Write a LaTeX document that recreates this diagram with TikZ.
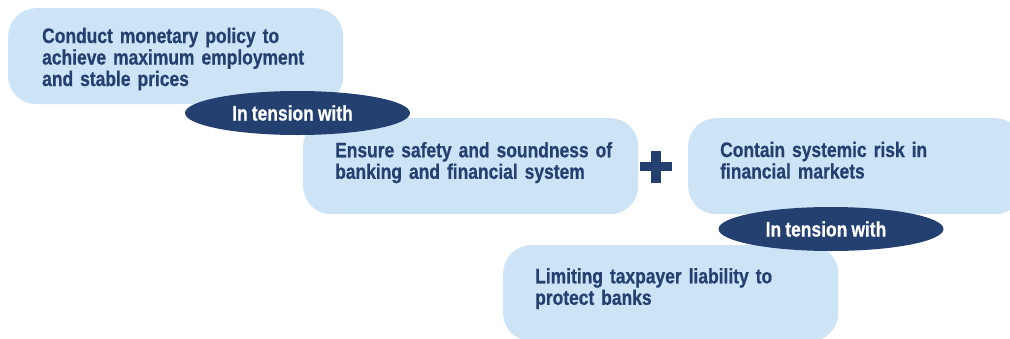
\documentclass[tikz,border=0pt]{standalone}
\usepackage{fontspec}
\setmainfont{Liberation Sans}[FakeStretch=0.83,WordSpace=0.85,FakeBold=0.6]
\usetikzlibrary{shapes.geometric}
\definecolor{boxblue}{RGB}{205,227,246}
\definecolor{navy}{RGB}{35,64,112}
\begin{document}
\begin{tikzpicture}[x=1pt,y=-1pt,
  goalbox/.style={fill=boxblue, rounded corners=28pt, minimum width=335pt, minimum height=96pt, anchor=north west, inner sep=0pt},
  goaltext/.style={anchor=base west, inner sep=0pt, text width=320pt, align=left, text=navy, font=\fontsize{21}{21.5}\selectfont\bfseries},
  tensionoval/.style={ellipse, fill=navy, minimum width=225pt, minimum height=44pt, inner sep=0pt, text=white, font=\fontsize{21}{21.5}\selectfont\bfseries},
  plussign/.style={minimum size=32pt, inner sep=0pt}
]
\useasboundingbox (0,0) rectangle (1010,338);
\clip (0,0) rectangle (1010,338);
% boxes
\node[goalbox] (b1) at (8,8) {};
\node[goalbox] (b2) at (303,118) {};
\node[goalbox] (b3) at (688,118) {};
\node[goalbox] (b4) at (503,245) {};
% tension ellipses
\node[tensionoval] (e1) at (297.5,113) {\kern-10pt In tension with};
\node[tensionoval] (e2) at (831,229) {\kern-10pt In tension with};
% plus sign
\node[plussign] (plus) at (656,166.5) {};
\fill[navy] ([xshift=-16pt,yshift=-4.75pt]plus.center) rectangle ([xshift=16pt,yshift=4.75pt]plus.center);
\fill[navy] ([xshift=-5pt,yshift=-16pt]plus.center) rectangle ([xshift=5pt,yshift=16pt]plus.center);
% texts
\node[goaltext] (t1) at ([shift={(34,35)}]b1.north west) {Conduct monetary policy to\\achieve maximum employment\\and stable prices};
\node[goaltext] (t2) at ([shift={(32,39.3)}]b2.north west) {Ensure safety and soundness of\\banking and financial system};
\node[goaltext] (t3) at ([shift={(32,39)}]b3.north west) {Contain systemic risk in\\financial markets};
\node[goaltext] (t4) at ([shift={(32,38.3)}]b4.north west) {Limiting taxpayer liability to\\protect banks};
\end{tikzpicture}
\end{document}
